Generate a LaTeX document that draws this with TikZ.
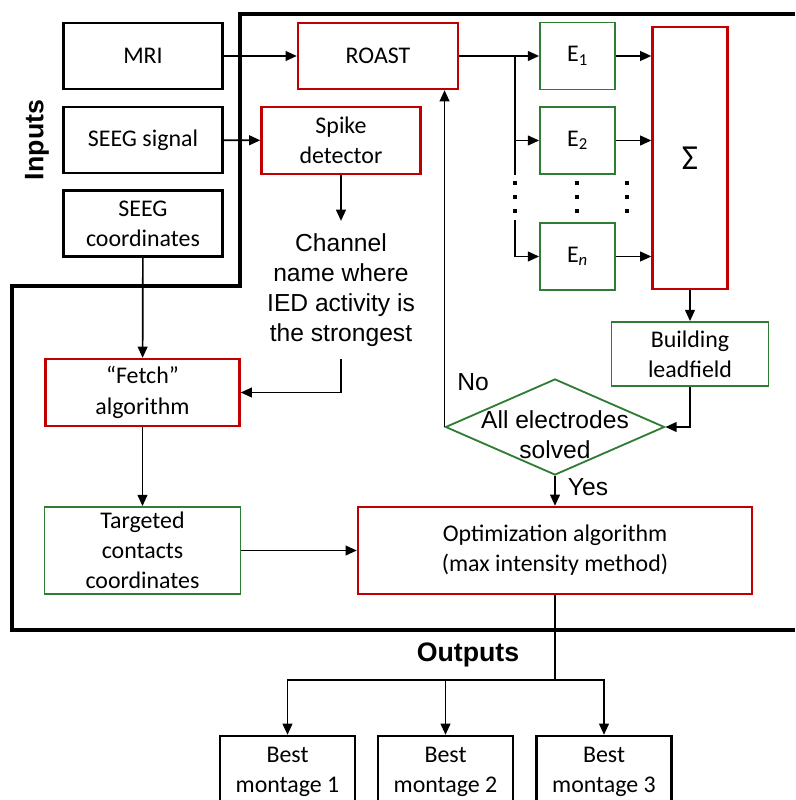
\documentclass[tikz,border=0pt]{standalone}
\usepackage{fontspec}
\setmainfont{Carlito}
\newfontfamily\arialfont{Liberation Sans}
\usetikzlibrary{arrows.meta,shapes.geometric,positioning}
\definecolor{boxred}{RGB}{192,0,0}
\definecolor{boxgreen}{RGB}{46,125,50}

\begin{document}
\begin{tikzpicture}[
    x=0.025cm, y=-0.025cm,
    >={Triangle[length=8pt,width=7pt]},
    box/.style={rectangle, draw, line width=1.7pt, minimum width=3.975cm, minimum height=1.65cm, align=center, inner sep=2pt, font=\fontsize{17}{21.5}\selectfont},
    redbox/.style={box, draw=boxred},
    greenbox/.style={box, draw=boxgreen, line width=1.3pt},
    ebox/.style={greenbox, minimum width=1.875cm, minimum height=1.675cm},
    bestbox/.style={box, minimum width=3.375cm, minimum height=1.8cm},
    plain/.style={align=center, font=\arialfont\fontsize{17.5}{21.5}\selectfont},
    heading/.style={font=\arialfont\bfseries\fontsize{19}{22}\selectfont},
    link/.style={line width=1.2pt},
    bigframe/.style={line width=2.8pt}
]
    \clip (0,0) rectangle (795,800);

    % inputs
    \node[box] (mri) at (143,56) {MRI};
    \node[box] (seegsig) at (143,140) {SEEG signal};
    \node[box] (seegcoord) at (143,223.5) {SEEG\\coordinates};
    \node[heading, rotate=90] (inputs) at (37,140) {Inputs};

    % processing frame
    \draw[bigframe] (795,14) -- (240,14) -- (240,286) -- (12,286) -- (12,630) -- (795,630);

    \node[redbox, minimum width=4cm] (roast) at (378,56) {ROAST};
    \node[redbox, minimum height=1.675cm] (spike) at (341,140.5) {Spike\\detector};
    \node[plain, inner ysep=0.3cm] (channel) at (341,290) {Channel\\name where\\IED activity is\\the strongest};
    \node[redbox, minimum width=4.85cm, minimum height=1.675cm] (fetch) at (142.5,392.5) {“Fetch”\\algorithm};
    \node[greenbox, minimum width=4.9cm, minimum height=2.175cm] (target) at (142.5,550.5) {Targeted\\contacts\\coordinates};
    \node[redbox, minimum width=9.85cm, minimum height=2.175cm] (optim) at (555,550.5) {Optimization algorithm\\(max intensity method)};

    % electrodes
    \node[ebox] (e1) at (577.5,56) {E\textsubscript{1}};
    \node[ebox] (e2) at (577.5,140.5) {E\textsubscript{2}};
    \node[ebox] (en) at (577.5,256.5) {E\textsubscript{\itshape n}};
    \node[redbox, minimum width=1.875cm, minimum height=6.55cm, font=\fontsize{25}{25}\selectfont] (sum) at (690,158) {Σ};
    \node[greenbox, minimum width=3.925cm, minimum height=1.6cm] (build) at (690,354) {Building\\leadfield};
    \node[diamond, draw=boxgreen, line width=1.3pt, minimum width=5.475cm, minimum height=2.4cm, inner sep=0pt] (solved) at (555,427) {};
    \node[plain] (solvedtext) at (555,435) {All electrodes\\solved};
    \node[plain] (no) at (473,382) {No};
    \node[plain] (yes) at (588,487) {Yes};

    % outputs
    \node[heading] (outputs) at (468,655) {Outputs};
    \node[bestbox] (best1) at (287.5,772) {Best\\montage 1};
    \node[bestbox] (best2) at (445.5,772) {Best\\montage 2};
    \node[bestbox] (best3) at (604,772) {Best\\montage 3};

    \draw[link,->] (mri) -- (roast);
    \draw[link,->] (seegsig) -- (spike);
    \draw[link,->] (spike) -- (channel);
    \draw[link,->] (seegcoord) -- (fetch);
    \draw[link,->] (channel) |- (fetch);
    \draw[link,->] (fetch) -- (target);
    \draw[link,->] (target) -- (optim);

    \coordinate (split) at (515,56);
    \coordinate (gaptop) at (515,175);
    \coordinate (gapbot) at (515,220);
    \draw[link,->] (roast) -- (e1);
    \draw[link] (split) -- (gaptop);
    \draw[link,->] (split) |- (e2);
    \draw[link,->] (gapbot) |- (en);
    \foreach \x in {515,577,627}
        \foreach \y in {183,197,211}
            \fill (\x-2,\y-2) rectangle ++(4,4);

    \draw[link,->] (e1) -- (e1 -| sum.west);
    \draw[link,->] (e2) -- (e2 -| sum.west);
    \draw[link,->] (en) -- (en -| sum.west);
    \draw[link,->] (sum) -- (build);
    \draw[link,->] (build) |- (solved.east);
    \draw[link,->] (solved.west) -- (solved.west |- roast.south);
    \draw[link,->] (solved) -- (optim);

    \coordinate (fork) at (555,680);
    \draw[link] (optim) -- (fork);
    \draw[link,->] (fork) -| (best1);
    \draw[link,->] (fork) -| (best2);
    \draw[link,->] (fork) -| (best3);
\end{tikzpicture}
\end{document}
